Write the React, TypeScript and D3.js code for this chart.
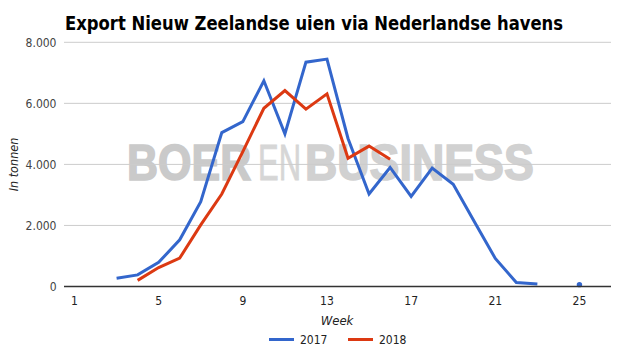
import React from "react";
import * as d3 from "d3";

const W = 623;
const H = 357;

const title = "Export Nieuw Zeelandse uien via Nederlandse havens";
const yAxisTitle = "In tonnen";
const xAxisTitle = "Week";
const seriesNames = ["2017", "2018"];
const seriesColors = ["#3366cc", "#dc3912"];

const weeks = [3, 4, 5, 6, 7, 8, 9, 10, 11, 12, 13, 14, 15, 16, 17, 18, 19, 20, 21, 22, 23, 24, 25];
const export2017: (number | null)[] = [270, 380, 790, 1530, 2780, 5040, 5400, 6740, 5000, 7350, 7450, 4850, 3030, 3900, 2950, 3880, 3350, 2130, 920, 130, 80, null, 60];
const export2018: (number | null)[] = [null, 200, 620, 930, 2020, 3030, 4420, 5840, 6420, 5810, 6310, 4200, 4600, 4170, null, null, null, null, null, null, null, null, null];

const yTicks = [0, 2000, 4000, 6000, 8000];
const xTicks = [1, 5, 9, 13, 17, 21, 25];

const watermarkParts = ["BOER", "EN", "BUSINESS"];

const fontFam = "'DejaVu Sans Condensed', 'DejaVu Sans', sans-serif";

export default function App() {
  const x = d3.scaleLinear().domain([0.5, 26.5]).range([64, 611]);
  const y = d3.scaleLinear().domain([0, 8000]).range([286.5, 42.3]);
  const fmt = (v: number) => d3.format(",")(v).replace(/,/g, ".");

  const series = [export2017, export2018].map((vals, i) => ({
    name: seriesNames[i],
    color: seriesColors[i],
    pts: weeks.map((w, j) => ({ w, v: vals[j] })),
  }));

  const line = d3
    .line<{ w: number; v: number | null }>()
    .defined((d) => d.v != null)
    .x((d) => x(d.w))
    .y((d) => y(d.v as number));

  const wm = [
    { x: 127, sx: 0.86, weight: "900", fill: "#cacaca", sw: 1.6 },
    { x: 258, sx: 0.62, weight: "normal", fill: "#d6d6d6", sw: 0.8 },
    { x: 305, sx: 0.895, weight: "900", fill: "#d1d1d1", sw: 1.6 },
  ];

  return (
    <svg width={W} height={H} style={{ position: "absolute", left: 0, top: 0, background: "#fff" }}>
      <rect x={0} y={0} width={W} height={H} fill="#fff" />
      <text x={314} y={30} textAnchor="middle" fontFamily={fontFam} fontWeight="bold" fontSize={20} fill="#000" textLength={498} lengthAdjust="spacingAndGlyphs">
        {title}
      </text>

      {/* watermark */}
      {watermarkParts.map((p, i) => (
        <text
          key={p}
          transform={`translate(${wm[i].x},180) scale(${wm[i].sx},1)`}
          fontFamily="'Liberation Sans', Arial, sans-serif"
          fontSize={50}
          fontWeight={wm[i].weight}
          fill={wm[i].fill}
          stroke={wm[i].fill}
          strokeWidth={wm[i].sw}
        >
          {p}
        </text>
      ))}

      {/* gridlines */}
      {yTicks.filter((t) => t !== 0).map((t) => (
        <line key={t} x1={64} x2={611} y1={y(t)} y2={y(t)} stroke="#cccccc" strokeWidth={1} />
      ))}
      {yTicks.map((t) => (
        <text key={"l" + t} x={56.5} y={y(t)} dy="0.35em" textAnchor="end" fontFamily={fontFam} fontSize={12} fill="#444">
          {fmt(t)}
        </text>
      ))}

      {/* lines */}
      {series.map((s) => (
        <g key={s.name}>
          <path d={line(s.pts) || ""} fill="none" stroke={s.color} strokeWidth={3} />
          {s.pts.map((p, j) => {
            const prev = s.pts[j - 1];
            const next = s.pts[j + 1];
            const isolated = p.v != null && (!prev || prev.v == null) && (!next || next.v == null);
            return isolated ? <circle key={j} cx={x(p.w)} cy={y(p.v as number)} r={2.7} fill={s.color} /> : null;
          })}
        </g>
      ))}

      {/* baseline */}
      <line x1={64} x2={611} y1={y(0)} y2={y(0)} stroke="#333" strokeWidth={1.5} />

      {xTicks.map((t) => (
        <text key={"x" + t} x={x(t)} y={305} textAnchor="middle" fontFamily={fontFam} fontSize={12} fill="#222">
          {t}
        </text>
      ))}

      <text x={337} y={324.5} textAnchor="middle" fontFamily={fontFam} fontStyle="italic" fontSize={13} fill="#222">
        {xAxisTitle}
      </text>
      <text transform="translate(17.5,164.5) rotate(-90)" textAnchor="middle" fontFamily={fontFam} fontStyle="italic" fontSize={12.5} fill="#222">
        {yAxisTitle}
      </text>

      {/* legend */}
      {series.map((s, i) => {
        const lx = i === 0 ? 269 : 348;
        return (
          <g key={"lg" + s.name}>
            <line x1={lx} x2={lx + 25} y1={339.5} y2={339.5} stroke={s.color} strokeWidth={3} />
            <text x={lx + 31} y={339.5} dy="0.35em" fontFamily={fontFam} fontSize={12} fill="#222">
              {s.name}
            </text>
          </g>
        );
      })}
    </svg>
  );
}
